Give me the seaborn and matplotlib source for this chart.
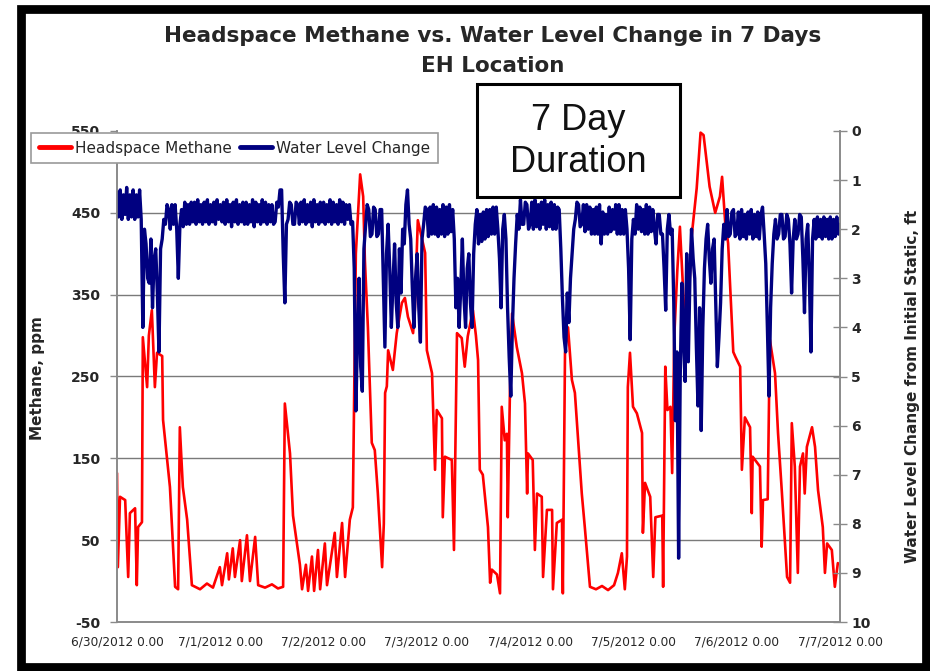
import numpy as np
import pandas as pd
import matplotlib
matplotlib.use("Agg")
import matplotlib.pyplot as plt
from matplotlib.lines import Line2D
from matplotlib.patches import Rectangle
import seaborn as sns

# ---- data -------------------------------------------------------------
# Headspace methane (ppm), hours since 6/30/2012 0:00
red_hours = [0.0, 0.2, 0.7, 1.9, 2.6, 3.0, 4.2, 4.6, 4.9, 5.8, 6.0, 7.0, 7.4, 8.1, 8.8, 9.3,
             10.5, 10.7, 12.3, 13.5, 14.2, 14.6, 15.3, 16.3, 17.4, 19.3, 20.9, 22.3, 23.9, 24.4,
             25.6, 26.0, 26.9, 27.4, 28.6, 29.0, 30.2, 30.9, 32.1, 32.8, 34.4, 36.0, 37.4, 38.6,
             39.0, 40.2, 40.9, 42.5, 43.0, 43.9, 44.4, 45.3, 45.8, 46.7, 47.2, 48.3, 48.8, 50.6,
             51.1, 52.3, 53.0, 54.1, 54.8, 55.5, 56.5, 57.2, 57.6, 58.3, 59.2, 59.9, 60.6, 61.6,
             62.0, 62.3, 62.7, 63.0, 64.1, 65.0, 66.2, 66.9, 67.6, 68.8, 69.2, 69.9, 71.6, 72.0,
             73.2, 73.9, 74.3, 75.5, 75.7, 76.2, 77.8, 78.3, 79.0, 80.1, 80.8, 81.5, 82.7, 83.4,
             83.9, 84.3, 85.0, 86.2, 86.7, 87.1, 88.3, 89.0, 89.4, 90.1, 90.6, 90.8, 91.3, 91.8,
             92.9, 94.1, 94.8, 95.3, 95.5, 96.6, 97.1, 97.6, 98.7, 99.0, 99.9, 101.1, 101.3, 102.2,
             103.4, 103.6, 104.1, 104.8, 105.7, 106.4, 108.0, 108.7, 109.9, 111.3, 112.7, 114.1,
             115.5, 116.4, 117.3, 118.0, 118.5, 118.7, 119.2, 119.9, 120.8, 122.0, 122.2, 122.7,
             123.9, 124.6, 125.1, 126.7, 126.9, 127.4, 127.9, 128.6, 129.0, 129.5, 130.2, 130.8,
             131.7, 132.6, 133.5, 134.7, 135.6, 136.3, 137.7, 139.0, 140.1, 140.6, 141.3, 142.0,
             143.2, 143.7, 144.8, 145.2, 145.9, 147.1, 147.5, 147.7, 149.4, 149.8, 150.1, 151.2,
             151.7, 152.9, 153.6, 154.5, 155.7, 156.4, 156.8, 157.5, 158.2, 158.7, 159.4, 159.8,
             160.3, 161.5, 162.2, 162.9, 164.0, 164.5, 165.0, 166.1, 166.8, 167.5]
red_ppm = [132, 17, 103, 99, 5, 83, 89, -5, 66, 72, 298, 237, 300, 331, 237, 279,
           275, 197, 115, -7, -10, 188, 115, 75, -5, -10, -3, -8, 17, -5,
           34, 2, 40, 5, 50, 0, 56, 0, 54, -5, -8, -4, -9, -7,
           217, 156, 80, 20, -10, 20, -12, 30, -12, 38, -10, 46, -5, 59,
           5, 71, 5, 75, 90, 400, 497, 470, 392, 310, 169, 160, 108, 17,
           70, 230, 238, 282, 258, 303, 340, 346, 323, 303, 331, 441, 401, 282,
           254, 136, 209, 199, 78, 152, 148, 38, 303, 297, 262, 299, 331, 300,
           270, 136, 130, 66, -2, 14, 8, -15, 213, 172, 180, 78, 230, 327,
           286, 254, 217, 107, 156, 148, 38, 107, 103, 5, 87, 87, -10, 71,
           75, -15, 279, 310, 246, 230, 107, 66, -7, -10, -6, -11,
           -5, 10, 34, -10, 30, 237, 279, 213, 205, 181, 59, 120,
           103, 5, 78, 80, -7, 262, 209, 213, 132, 300, 380, 433,
           340, 310, 420, 480, 548, 545, 482, 450, 470, 494, 440, 413,
           280, 274, 262, 136, 200, 188, 83, 152, 140, 42, 99, 100,
           295, 254, 181, 108, 5, -2, 193, 140, 10, 140, 156, 107,
           164, 188, 164, 111, 66, 10, 46, 38, -7, 22]

# Water level change from initial static (ft), logged every 22.5 minutes
LOG_INTERVAL_H = 0.375
blue_ft = [
    1.25, 1.75, 1.2, 1.8, 1.3, 1.7, 1.15, 1.8, 1.3, 1.75, 1.2, 1.8, 1.3, 1.75, 1.2, 1.8,
    4.0, 2.0, 2.3, 3.0, 3.1, 2.2, 3.6, 2.6, 2.4, 3.3, 4.5, 2.4, 2.2, 1.8, 1.9, 1.5,
    1.6, 2.0, 1.5, 1.9, 1.5, 2.0, 3.0, 1.9, 1.6, 1.95, 1.45, 1.9, 1.5, 1.9, 1.45, 1.85,
    1.45, 1.9, 1.4, 1.85, 1.5, 1.9, 1.45, 1.85, 1.4, 1.9, 1.5, 1.85, 1.45, 1.9, 1.4, 1.8,
    1.5, 1.85, 1.45, 1.9, 1.4, 1.85, 1.5, 1.95, 1.45, 1.85, 1.4, 1.9, 1.5, 1.85, 1.45, 1.9,
    1.45, 1.9, 1.5, 1.85, 1.4, 1.95, 1.45, 1.85, 1.5, 1.9, 1.4, 1.85, 1.45, 1.9, 1.5, 1.85,
    1.5, 1.9, 1.85, 1.45, 1.55, 1.2, 1.2, 2.5, 3.5, 1.9, 1.8, 1.45, 1.5, 1.9, 1.9, 1.45,
    1.5, 1.9, 1.45, 1.85, 1.4, 1.9, 1.5, 1.85, 1.45, 1.95, 1.4, 1.85, 1.5, 1.9, 1.45, 1.85,
    1.45, 1.9, 1.5, 1.85, 1.4, 1.9, 1.45, 1.85, 1.5, 1.9, 1.4, 1.85, 1.45, 1.9, 1.5, 1.8,
    1.5, 1.9, 1.85, 2.8, 5.7, 4.2, 3.0, 4.8, 5.3, 2.4, 1.95, 1.5, 1.6, 2.15, 2.1, 1.55,
    1.6, 2.15, 2.1, 1.6, 1.6, 3.0, 4.4, 2.5, 1.9, 2.8, 4.0, 3.1, 2.3, 3.5, 4.0, 2.4,
    3.3, 2.0, 2.3, 1.5, 1.2, 1.9, 2.2, 3.2, 4.0, 3.0, 2.5, 3.6, 4.3, 2.2, 1.9, 1.55,
    1.6, 2.15, 1.55, 2.1, 1.5, 2.1, 1.55, 2.15, 1.6, 2.1, 1.5, 2.15, 1.55, 2.1, 1.5, 2.05,
    1.6, 2.2, 3.6, 3.0, 4.0, 3.2, 2.2, 3.4, 4.0, 2.8, 2.5, 3.5, 4.0, 2.5, 1.9, 1.6,
    2.3, 1.7, 2.25, 1.65, 2.2, 1.6, 2.15, 1.6, 2.1, 1.55, 2.1, 1.55, 2.0, 2.6, 3.6, 2.0,
    1.7, 2.2, 3.6, 4.6, 5.4, 4.0, 3.0, 2.3, 1.7, 2.0, 1.4, 1.9, 1.9, 1.45, 1.5, 2.0,
    1.9, 1.45, 2.0, 1.4, 1.95, 1.5, 2.0, 1.45, 1.9, 1.4, 2.0, 1.5, 1.95, 1.45, 2.0, 1.5,
    2.0, 1.55, 1.6, 2.4, 3.4, 4.2, 4.5, 3.3, 3.9, 3.0, 2.5, 2.0, 1.8, 1.45, 1.5, 1.95,
    1.9, 1.5, 2.05, 1.5, 2.0, 1.55, 2.1, 1.6, 2.1, 1.55, 2.1, 1.5, 2.3, 1.65, 2.1, 1.7,
    2.1, 1.55, 2.05, 1.6, 2.0, 1.5, 2.1, 1.5, 2.1, 1.6, 2.1, 1.6, 2.0, 2.8, 4.25, 2.2,
    1.8, 2.1, 1.5, 2.0, 1.55, 2.05, 1.6, 2.1, 1.5, 2.1, 1.55, 2.05, 1.6, 2.0, 2.3, 1.7,
    1.7, 2.1, 2.1, 2.8, 3.65, 2.0, 1.7, 2.1, 2.0, 3.5, 5.9, 4.5, 8.7, 5.0, 3.1, 4.2,
    5.1, 2.5, 4.7, 3.0, 2.0, 2.6, 3.0, 4.4, 5.6, 3.6, 6.1, 4.0, 2.8, 2.2, 1.9, 2.6,
    3.1, 2.4, 2.2, 3.5, 4.8, 4.2, 3.5, 2.4, 1.9, 2.2, 1.6, 2.15, 2.1, 1.65, 1.6, 2.15,
    2.1, 1.65, 2.2, 1.6, 2.15, 1.7, 2.2, 1.65, 2.1, 1.6, 2.2, 1.7, 2.15, 1.65, 2.2, 1.7,
    1.55, 2.1, 2.7, 4.0, 5.4, 3.6, 2.7, 2.1, 1.8, 2.2, 2.1, 1.7, 1.7, 2.2, 2.15, 1.7,
    1.8, 2.3, 3.3, 2.2, 1.8, 2.2, 2.1, 1.7, 1.75, 2.6, 3.7, 2.2, 1.9, 3.0, 4.5, 2.2,
    1.8, 2.2, 1.75, 2.15, 1.8, 2.2, 1.75, 2.15, 1.8, 2.2, 1.75, 2.2, 1.8, 2.15, 1.75, 2.1,
    1.9,
]
blue_hours = np.arange(len(blue_ft)) * LOG_INTERVAL_H

day_ticks = [0, 24, 48, 72, 96, 120, 144, 168]
day_labels = ["6/30/2012 0.00", "7/1/2012 0.00", "7/2/2012 0.00", "7/3/2012 0.00",
              "7/4/2012 0.00", "7/5/2012 0.00", "7/6/2012 0.00", "7/7/2012 0.00"]
ppm_ticks = [-50, 50, 150, 250, 350, 450, 550]
ft_ticks = list(range(0, 11))

methane = pd.DataFrame({"hours": red_hours, "ppm": red_ppm})
water = pd.DataFrame({"hours": blue_hours, "ft": blue_ft})

# ---- style ------------------------------------------------------------
sns.set_style("white")
plt.rcParams["font.family"] = ["DejaVu Sans"]

RED = "#ff0000"
NAVY = "#000080"
AXIS_GREY = "#8a8a8a"
TEXT = "#262626"

W, H = 930, 671
fig = plt.figure(figsize=(W / 100, H / 100), dpi=100)
fig.patch.set_facecolor("white")

ax = fig.add_axes([117 / W, 1 - 622 / H, (840 - 117) / W, (622 - 131) / H])
ax2 = ax.twinx()

sns.lineplot(data=methane, x="hours", y="ppm", ax=ax, color=RED, linewidth=1.9,
             estimator=None, sort=False, legend=False)
sns.lineplot(data=water, x="hours", y="ft", ax=ax2, color=NAVY, linewidth=2.4,
             estimator=None, sort=False, legend=False)

# left axis
ax.set_xlim(0, 168)
ax.set_ylim(-50, 550)
ax.set_yticks(ppm_ticks)
ax.set_yticklabels([str(t) for t in ppm_ticks], fontweight="bold")
ax.set_xticks(day_ticks)
ax.set_xticklabels(day_labels)
ax.tick_params(axis="y", direction="out", length=5, width=1, color=AXIS_GREY,
               labelsize=10, labelcolor=TEXT, pad=7)
ax.tick_params(axis="x", direction="inout", length=6, width=1, color=AXIS_GREY,
               labelsize=8.7, labelcolor=TEXT, pad=7)
ax.grid(axis="y", color="#7a7a7a", linewidth=1.0)
ax.grid(axis="x", visible=False)
ax.get_ygridlines()[-1].set_visible(False)
ax.get_ygridlines()[0].set_visible(False)
ax.set_xlabel("")
ax.set_ylabel("Methane, ppm", fontsize=11, fontweight="bold", color=TEXT)
ax.yaxis.set_label_coords(-0.099, 0.497)

# right axis (inverted water level)
ax2.set_ylim(10, 0)
ax2.set_yticks(ft_ticks)
ax2.set_yticklabels([str(t) for t in ft_ticks], fontweight="bold")
ax2.tick_params(axis="y", direction="inout", length=10, width=1, color=AXIS_GREY,
                labelsize=10, labelcolor=TEXT, pad=3)
ax2.set_ylabel("Water Level Change from Initial Static, ft", fontsize=11,
               fontweight="bold", color=TEXT)
ax2.yaxis.set_label_coords(1.09, 0.48)
ax2.grid(False)

for a in (ax, ax2):
    a.spines["top"].set_visible(False)
    for s in ("left", "right", "bottom"):
        a.spines[s].set_color(AXIS_GREY)
        a.spines[s].set_linewidth(1.2)

# titles
fig.text(493 / W, 1 - 36 / H, "Headspace Methane vs. Water Level Change in 7 Days",
         ha="center", va="center", fontsize=15.5, fontweight="bold", color=TEXT)
fig.text(493 / W, 1 - 66 / H, "EH Location", ha="center", va="center",
         fontsize=15.5, fontweight="bold", color=TEXT)

# legend
handles = [Line2D([], [], color=RED, linewidth=3.5), Line2D([], [], color=NAVY, linewidth=3.5)]
leg = fig.legend(handles, ["Headspace Methane", "Water Level Change"], loc="upper left",
                 bbox_to_anchor=(31 / W, 1 - 133 / H), ncol=2, frameon=True,
                 fancybox=False, edgecolor="#9a9a9a", framealpha=1, fontsize=11,
                 handlelength=2.1, handletextpad=0.3, columnspacing=0.5,
                 borderpad=0.5, borderaxespad=0)
leg.get_frame().set_linewidth(1.2)
for t in leg.get_texts():
    t.set_color(TEXT)

# duration call-out box
fig.add_artist(Rectangle((477 / W, 1 - 197 / H), 203 / W, 113 / H, transform=fig.transFigure,
                         facecolor="white", edgecolor="black", linewidth=2.2, zorder=6))
fig.text(578 / W, 1 - 120 / H, "7 Day", ha="center", va="center", fontsize=26,
         family="Liberation Sans", color="#111111", zorder=7)
fig.text(578 / W, 1 - 162 / H, "Duration", ha="center", va="center", fontsize=26,
         family="Liberation Sans", color="#111111", zorder=7)

# outer black frame
fig.add_artist(Rectangle((20.5 / W, 1 - 666.5 / H), (925.5 - 20.5) / W, (666.5 - 8.5) / H,
                         transform=fig.transFigure, fill=False, edgecolor="black",
                         linewidth=6.3, zorder=10))

fig.savefig("out.png", dpi=100, facecolor="white")
